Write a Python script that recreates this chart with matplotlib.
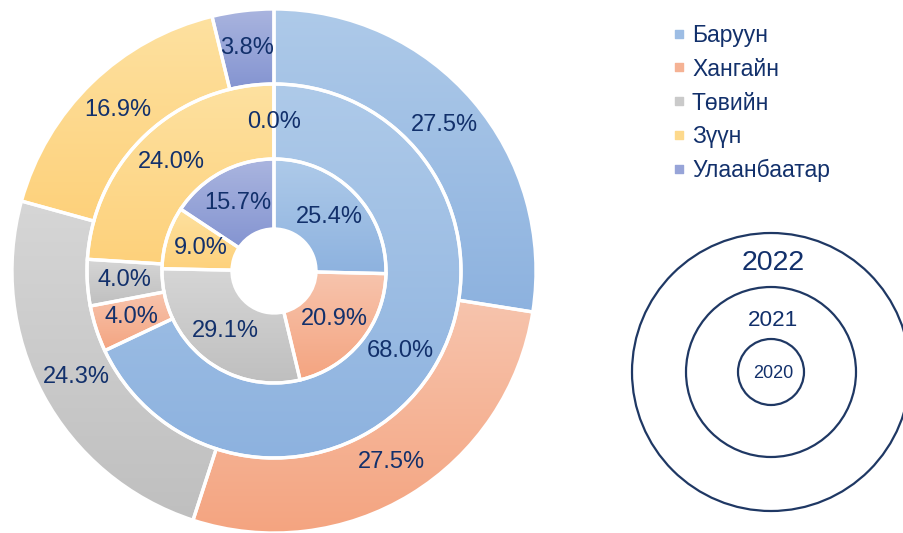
import numpy as np
import matplotlib
matplotlib.use("Agg")
import matplotlib.pyplot as plt
from matplotlib.colors import to_rgb
from matplotlib.patches import Circle

plt.rcParams["font.family"] = ["Liberation Sans", "DejaVu Sans"]

# Бүс нутгийн эзлэх хувь, жилээр
regions = ["Баруун", "Хангайн", "Төвийн", "Зүүн", "Улаанбаатар"]
share_2020 = [25.4, 20.9, 29.1, 9.0, 15.7]
share_2021 = [68.0, 4.0, 4.0, 24.0, 0.0]
share_2022 = [27.5, 27.5, 24.3, 16.9, 3.8]
years = ["2020", "2021", "2022"]

# градиентийн дээд / доод өнгө
GRAD_TOP = ["#aecae9", "#f7c4ad", "#d6d6d6", "#fee1a0", "#aab5df"]
GRAD_BOTTOM = ["#8db2df", "#f4a480", "#bfbfbf", "#fdd17b", "#8494d1"]
LEGEND_COLORS = ["#9dbde4", "#f5b294", "#cacaca", "#fdd98c", "#97a4d8"]
TEXT_COLOR = "#12306b"
LINE_COLOR = "#1f3864"

W, H = 904, 533
CENTER = (274, H - 271)

fig = plt.figure(figsize=(W / 100, H / 100), dpi=100)
ax = fig.add_axes([0, 0, 1, 1])


def draw_ring(values, radius, width):
    wedges, _ = ax.pie(
        values,
        radius=radius,
        center=CENTER,
        startangle=90,
        counterclock=False,
        wedgeprops={"width": width, "edgecolor": "white", "linewidth": 2.4},
    )
    g = np.linspace(0, 1, 256)[:, None, None]
    for w, v, top, bot in zip(wedges, values, GRAD_TOP, GRAD_BOTTOM):
        w.set_facecolor("none")
        w.set_zorder(3)
        if v <= 0:
            continue
        ext = w.get_path().get_extents()
        cols = np.array(to_rgb(top)) * (1 - g) + np.array(to_rgb(bot)) * g
        im = ax.imshow(cols, extent=(ext.x0, ext.x1, ext.y0, ext.y1),
                       origin="upper", aspect="auto", interpolation="bilinear", zorder=2)
        im.set_clip_path(w)

    # подписи по середине кольца
    total = sum(values)
    cum = 0
    r_mid = radius - width / 2
    for v in values:
        ang = np.deg2rad(90 - 360 * (cum + v / 2) / total)
        ax.text(CENTER[0] + r_mid * np.cos(ang), CENTER[1] + r_mid * np.sin(ang),
                f"{v:.1f}%", ha="center", va="center", fontsize=17,
                color=TEXT_COLOR, zorder=5)
        cum += v


draw_ring(share_2022, 262, 75)
draw_ring(share_2021, 187, 75)
draw_ring(share_2020, 112, 70)

# legend
for i, (name, c) in enumerate(zip(regions, LEGEND_COLORS)):
    base = 42 + i * 33.8
    ax.scatter([679], [H - base + 8.5], marker="s", s=26, color=c, zorder=5)
    ax.text(692, H - base, name, fontsize=16.5, color=TEXT_COLOR,
            ha="left", va="baseline")

# year key: concentric circles
key_c = (771, H - 372)
for r in (139, 85, 33):
    ax.add_patch(Circle(key_c, r, fill=False, edgecolor=LINE_COLOR, lw=1.6))
for label, base, size in zip(years, (378, 326, 270), (13, 16.2, 20.5)):
    ax.text(773, H - base, label, fontsize=size, color=TEXT_COLOR,
            ha="center", va="baseline")

ax.set_xlim(0, W)
ax.set_ylim(0, H)
ax.set_aspect("equal")
ax.axis("off")

fig.savefig("out.png", dpi=100)
